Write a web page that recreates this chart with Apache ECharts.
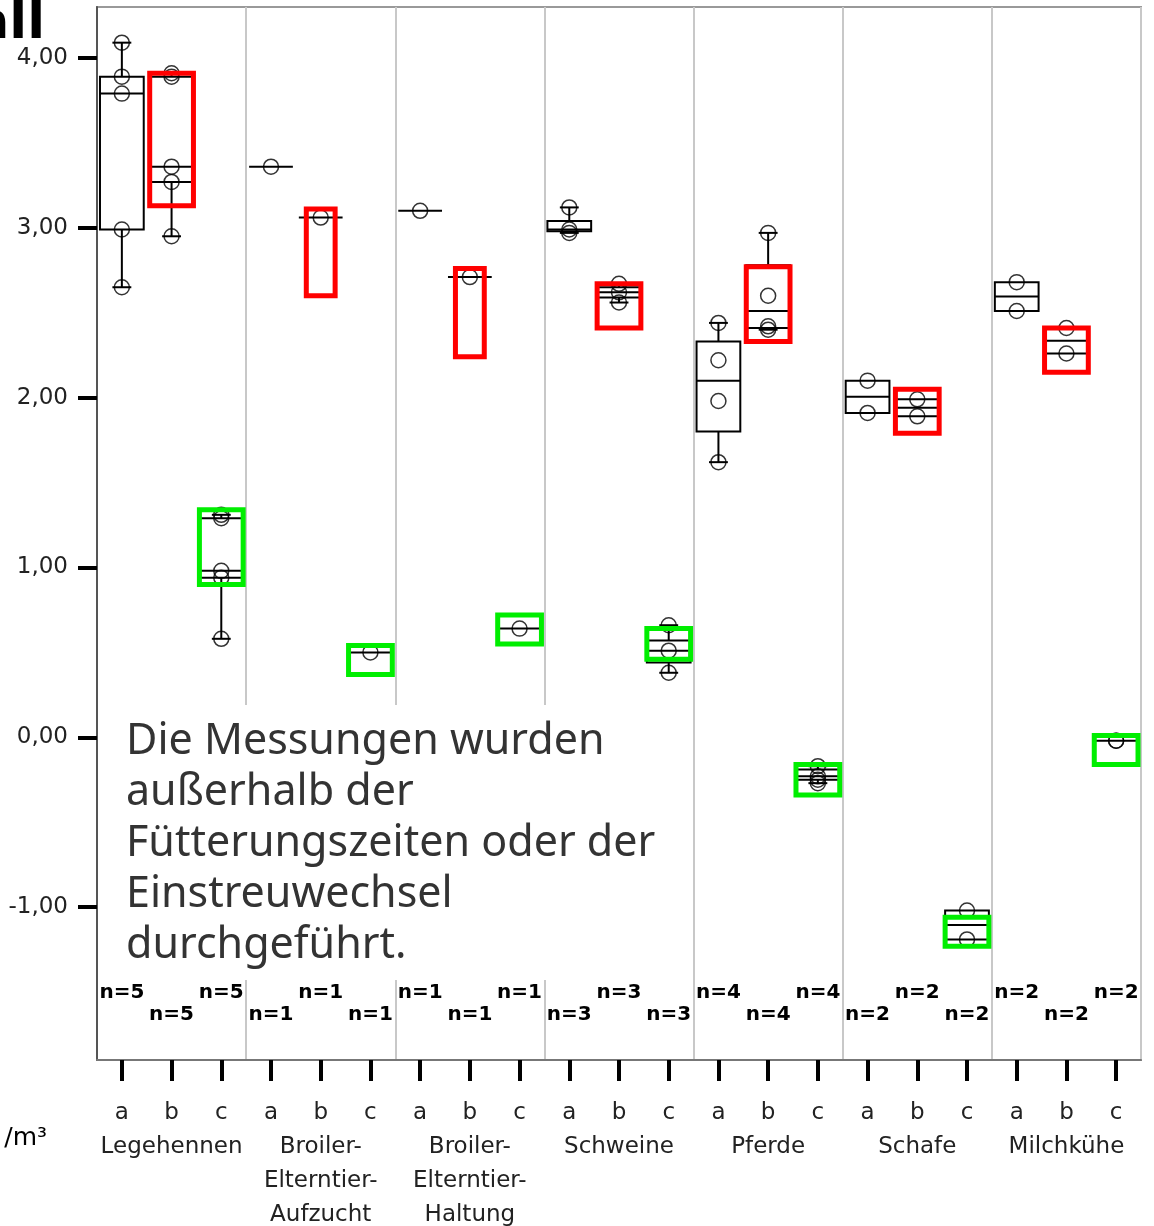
<!DOCTYPE html>
<html>
<head>
<meta charset="utf-8">
<script src="https://cdn.jsdelivr.net/npm/echarts@6/dist/echarts.min.js"></script>
<style>
  html, body { margin: 0; padding: 0; background: #fff; }
  #chart { width: 1154px; height: 1226px; }
</style>
</head>
<body>
<div id="chart"></div>
<script>
// Housing types, each measured in three phases a / b / c
const groups = ['Legehennen', 'Broiler-\nElterntier-\nAufzucht', 'Broiler-\nElterntier-\nHaltung',
                'Schweine', 'Pferde', 'Schafe', 'Milchkühe'];
const subgroups = ['a', 'b', 'c'];
const categories = groups.flatMap((g, gi) => subgroups.map(s => gi + s));

// Single measurements per box (log scale)
const observations = [
  [2.65, 2.99, 3.79, 3.89, 4.09],
  [2.95, 3.27, 3.36, 3.89, 3.91],
  [0.58, 0.94, 0.98, 1.29, 1.31],
  [3.36],
  [3.06],
  [0.50],
  [3.10],
  [2.71],
  [0.64],
  [2.97, 2.99, 3.12],
  [2.56, 2.62, 2.67],
  [0.38, 0.51, 0.66],
  [1.62, 1.98, 2.22, 2.44],
  [2.40, 2.42, 2.60, 2.97],
  [-0.27, -0.25, -0.23, -0.17],
  [1.91, 2.10],
  [1.89, 1.99],
  [-1.19, -1.02],
  [2.51, 2.68],
  [2.26, 2.41],
  [-0.02, -0.02]
];

// Box summaries: min, lower hinge, median, upper hinge, max
const boxStats = [
  [2.65, 2.99, 3.79, 3.89, 4.09],
  [2.95, 3.27, 3.36, 3.89, 3.91],
  [0.58, 0.94, 0.98, 1.29, 1.31],
  [3.36, 3.36, 3.36, 3.36, 3.36],
  [3.06, 3.06, 3.06, 3.06, 3.06],
  [0.50, 0.50, 0.50, 0.50, 0.50],
  [3.10, 3.10, 3.10, 3.10, 3.10],
  [2.71, 2.71, 2.71, 2.71, 2.71],
  [0.64, 0.64, 0.64, 0.64, 0.64],
  [2.97, 2.98, 2.99, 3.04, 3.12],
  [2.56, 2.59, 2.62, 2.65, 2.67],
  [0.38, 0.44, 0.51, 0.57, 0.66],
  [1.62, 1.80, 2.10, 2.33, 2.44],
  [2.40, 2.41, 2.51, 2.78, 2.97],
  [-0.27, -0.25, -0.23, -0.19, -0.17],
  [1.91, 1.91, 2.005, 2.10, 2.10],
  [1.89, 1.89, 1.94, 1.99, 1.99],
  [-1.19, -1.19, -1.105, -1.02, -1.02],
  [2.51, 2.51, 2.595, 2.68, 2.68],
  [2.26, 2.26, 2.335, 2.41, 2.41],
  [-0.02, -0.02, -0.02, -0.02, -0.02]
];

const sampleSizes = [5, 5, 5, 1, 1, 1, 1, 1, 1, 3, 3, 3, 4, 4, 4, 2, 2, 2, 2, 2, 2];

const yTicks = [-1, 0, 1, 2, 3, 4];

// Highlight frames: category index, upper value, lower value
const framesB = [
  [1, 3.91, 3.13],
  [4, 3.11, 2.60],
  [7, 2.76, 2.24],
  [10, 2.67, 2.41],
  [13, 2.77, 2.33],
  [16, 2.05, 1.79],
  [19, 2.41, 2.15]
];
const framesC = [
  [2, 1.34, 0.90],
  [5, 0.54, 0.37],
  [8, 0.72, 0.55],
  [11, 0.64, 0.46],
  [14, -0.16, -0.34],
  [17, -1.06, -1.23],
  [20, 0.01, -0.16]
];

const noteText = 'Die Messungen wurden\naußerhalb der\nFütterungszeiten oder der\nEinstreuwechsel\ndurchgeführt.';

const narrowFrames = new Set([4, 7]);

function renderBox(params, api) {
  const i = api.value(0);
  const mn = api.value(1), q1 = api.value(2), md = api.value(3), q3 = api.value(4), mx = api.value(5);
  const band = api.size([1, 0])[0];
  const half = band * 0.44;
  const capHalf = band * 0.19;
  const cx = api.coord([i, md])[0];
  const y = v => api.coord([i, v])[1];
  const st = { stroke: '#000', lineWidth: 2 };
  const line = (x1, y1, x2, y2) => ({ type: 'line', shape: { x1, y1, x2, y2 }, style: st });
  const kids = [];
  if (mx > q3) {
    kids.push(line(cx, y(q3), cx, y(mx)));
    kids.push(line(cx - capHalf, y(mx), cx + capHalf, y(mx)));
  }
  if (mn < q1) {
    kids.push(line(cx, y(q1), cx, y(mn)));
    kids.push(line(cx - capHalf, y(mn), cx + capHalf, y(mn)));
  }
  if (q3 > q1) {
    kids.push({ type: 'rect', shape: { x: cx - half, y: y(q3), width: 2 * half, height: y(q1) - y(q3) },
                style: { fill: 'none', stroke: '#000', lineWidth: 2 } });
  }
  kids.push(line(cx - half, y(md), cx + half, y(md)));
  return { type: 'group', children: kids };
}

function frameRenderer(color) {
  return function (params, api) {
    const i = api.value(0);
    const top = api.coord([i, api.value(1)]);
    const bot = api.coord([i, api.value(2)]);
    const band = api.size([1, 0])[0];
    const w = narrowFrames.has(i) ? band * 0.58 : band * 0.88;
    return {
      type: 'rect',
      shape: { x: top[0] - w / 2, y: top[1], width: w, height: bot[1] - top[1] },
      style: { fill: 'none', stroke: color, lineWidth: 5 }
    };
  };
}

function renderCount(params, api) {
  const i = api.value(0);
  const x = api.coord([i, 0])[0];
  const bottom = params.coordSys.y + params.coordSys.height;
  return {
    type: 'text',
    x: x,
    y: bottom - (i % 2 === 0 ? 67 : 45),
    style: {
      text: 'n=' + api.value(1),
      textAlign: 'center',
      textVerticalAlign: 'middle',
      fontFamily: 'DejaVu Sans',
      fontWeight: 'bold',
      fontSize: 20,
      fill: '#000'
    }
  };
}

const chart = echarts.init(document.getElementById('chart'), null, { renderer: 'canvas' });

chart.setOption({
  backgroundColor: '#fff',
  animation: false,
  grid: {
    left: 97, right: 13, top: 7, bottom: 166,
    show: true, borderColor: '#999', borderWidth: 2,
    containLabel: false, outerBoundsMode: 'none'
  },
  xAxis: {
    type: 'category',
    data: categories,
    boundaryGap: true,
    axisLine: { show: true, onZero: false, lineStyle: { color: '#777', width: 2 } },
    axisTick: { show: true, alignWithLabel: true, length: 21, lineStyle: { color: '#000', width: 4 } },
    axisLabel: {
      interval: 0,
      margin: 36,
      fontFamily: 'DejaVu Sans',
      fontSize: 23,
      lineHeight: 34,
      color: '#222',
      formatter: (value, index) => {
        const s = subgroups[index % 3];
        return index % 3 === 1 ? s + '\n' + groups[(index - 1) / 3] : s;
      }
    },
    splitLine: {
      show: true,
      interval: (index) => index > 0 && index < categories.length && index % 3 === 0,
      lineStyle: { color: '#c8c8c8', width: 2 }
    }
  },
  yAxis: {
    type: 'value',
    min: -1.9,
    max: 4.3,
    axisLine: { show: true, onZero: false, lineStyle: { color: '#555', width: 2 } },
    axisTick: { show: true, length: 19, lineStyle: { color: '#000', width: 4 }, customValues: yTicks },
    axisLabel: {
      customValues: yTicks,
      margin: 29,
      fontFamily: 'DejaVu Sans',
      fontSize: 23,
      color: '#222',
      formatter: v => v.toFixed(2).replace('.', ',')
    },
    splitLine: { show: false }
  },
  series: [
    {
      type: 'custom',
      z: 2,
      renderItem: renderBox,
      data: boxStats.map((s, i) => [i].concat(s)),
      encode: { x: 0, y: [1, 2, 3, 4, 5] }
    },
    {
      type: 'scatter',
      z: 3,
      symbol: 'circle',
      symbolSize: 15,
      itemStyle: { color: 'rgba(0,0,0,0)', borderColor: '#000', borderWidth: 1.5 },
      data: observations.flatMap((vals, i) => vals.map(v => [i, v]))
    },
    {
      type: 'custom',
      z: 4,
      renderItem: frameRenderer('#ff0000'),
      data: framesB,
      encode: { x: 0, y: [1, 2] }
    },
    {
      type: 'custom',
      z: 4,
      renderItem: frameRenderer('#00ee00'),
      data: framesC,
      encode: { x: 0, y: [1, 2] }
    },
    {
      type: 'custom',
      z: 5,
      clip: false,
      renderItem: renderCount,
      data: sampleSizes.map((n, i) => [i, n]),
      encode: { x: 0 }
    }
  ],
  graphic: [
    {
      type: 'rect',
      z: 100,
      shape: { x: 99, y: 705, width: 582, height: 275 },
      style: { fill: '#fff' }
    },
    {
      type: 'text',
      z: 101,
      x: 126,
      y: 716,
      style: {
        text: noteText,
        fontFamily: 'Noto Sans',
        fontSize: 43,
        lineHeight: 51,
        fill: '#333',
        textAlign: 'left',
        textVerticalAlign: 'top'
      }
    },
    {
      type: 'text',
      z: 101,
      x: 45,
      y: 50,
      style: {
        text: 'all',
        fontFamily: 'DejaVu Sans',
        fontWeight: 'bold',
        fontSize: 52,
        fill: '#000',
        textAlign: 'right',
        textVerticalAlign: 'bottom'
      }
    },
    {
      type: 'text',
      z: 101,
      x: 47,
      y: 1138,
      style: {
        text: '/m³',
        fontFamily: 'DejaVu Sans',
        fontSize: 25,
        fill: '#000',
        textAlign: 'right',
        textVerticalAlign: 'middle'
      }
    }
  ]
});
</script>
</body>
</html>
